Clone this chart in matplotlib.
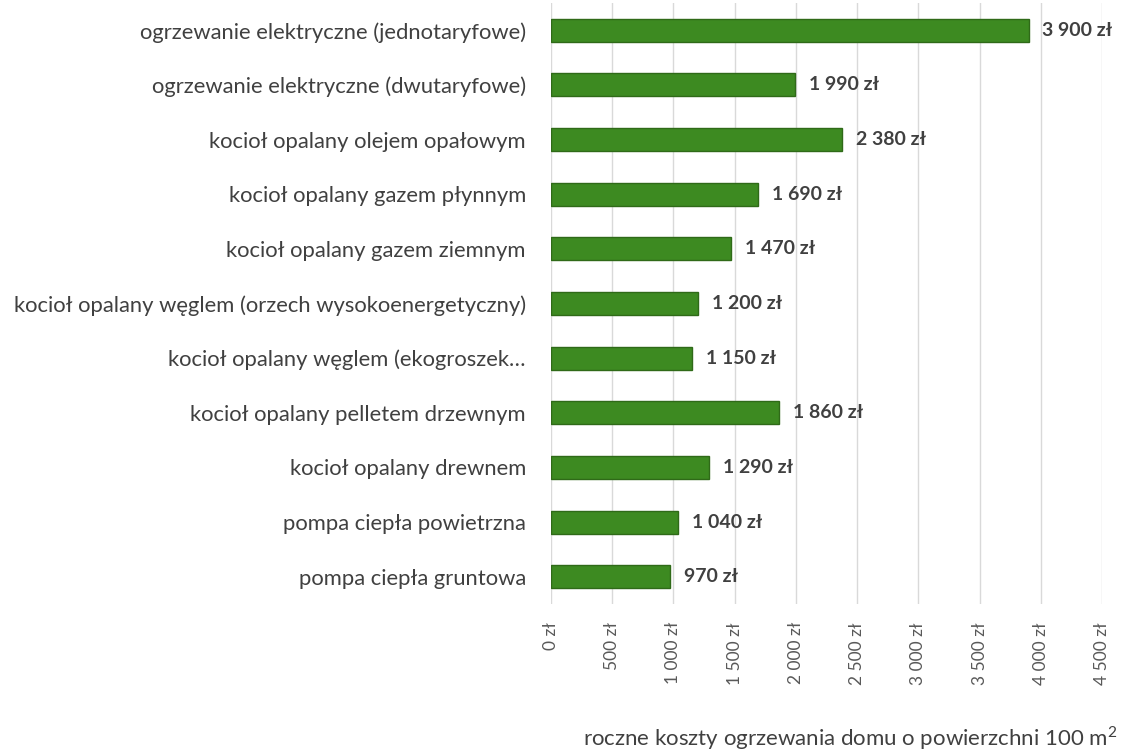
import matplotlib
matplotlib.use("Agg")
import matplotlib.pyplot as plt

categories = [
    "ogrzewanie elektryczne (jednotaryfowe)",
    "ogrzewanie elektryczne (dwutaryfowe)",
    "kocioł opalany olejem opałowym",
    "kocioł opalany gazem płynnym",
    "kocioł opalany gazem ziemnym",
    "kocioł opalany węglem (orzech wysokoenergetyczny)",
    "kocioł opalany węglem (ekogroszek…",
    "kocioł opalany pelletem drzewnym",
    "kocioł opalany drewnem",
    "pompa ciepła powietrzna",
    "pompa ciepła gruntowa",
]
values = [3900, 1990, 2380, 1690, 1470, 1200, 1150, 1860, 1290, 1040, 970]
xticks = [0, 500, 1000, 1500, 2000, 2500, 3000, 3500, 4000, 4500]
xlabel = "roczne koszty ogrzewania domu o powierzchni 100 m$^2$"

def fmt(v):
    return f"{v:,}".replace(",", " ") + " zł"

plt.rcParams['font.family'] = ['Lato', 'DejaVu Sans']
plt.rcParams['mathtext.fontset'] = 'custom'
plt.rcParams['mathtext.rm'] = 'Lato'

fig = plt.figure(figsize=(11.21, 7.54), dpi=100)
ax = fig.add_axes([551/1121, 150/754, 551/1121, 601/754])

y = list(range(len(categories)))
ax.barh(y, values, height=0.42, color="#3d8a21", edgecolor="#2f6a18", linewidth=1.0, zorder=3)
for yi, v in zip(y, values):
    ax.annotate(fmt(v), (v, yi), xytext=(10, 0), textcoords="offset points",
                va="center", ha="left", fontsize=14, fontweight="bold", color="#404040")

ax.set_yticks(y)
ax.set_yticklabels(categories, fontsize=15.8, color="#404040")
ax.set_ylim(len(categories) - 0.5, -0.5)
ax.set_xlim(0, 4500)
ax.set_xticks(xticks)
ax.set_xticklabels([fmt(t) for t in xticks], rotation=90, fontsize=12.5, color="#595959", va="top")
ax.tick_params(axis="both", length=0)
ax.tick_params(axis="y", pad=18)
ax.tick_params(axis="x", pad=13)
ax.grid(axis="x", color="#d9d9d9", linewidth=1, zorder=0)
for s in ax.spines.values():
    s.set_visible(False)

fig.text(1117/1121, 1 - 738/754, xlabel, ha="right", va="center", fontsize=16, color="#404040")

fig.savefig("out.png", dpi=100)
